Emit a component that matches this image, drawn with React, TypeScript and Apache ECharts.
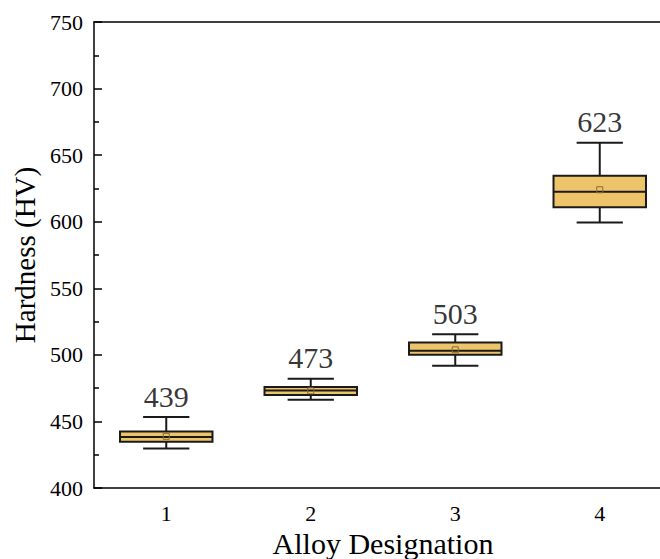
import React, { useEffect, useRef } from "react";
import * as echarts from "echarts";

const categories = ["1", "2", "3", "4"];
const lowerWhisker = [429.6, 466.3, 491.8, 599.5];
const q1 = [434.8, 469.8, 500.0, 610.8];
const median = [438.3, 473.3, 503.0, 622.5];
const q3 = [442.5, 475.8, 509.3, 634.5];
const upperWhisker = [453.3, 482.0, 515.5, 659.3];
const means = [438.8, 473.0, 503.8, 624.0];
const meanLabels = ["439", "473", "503", "623"];
const yTicks = { min: 400, max: 750, interval: 50 };

const FONT = "'Liberation Serif', 'Times New Roman', serif";

export default function App() {
  const ref = useRef<HTMLDivElement>(null);
  useEffect(() => {
    if (!ref.current) return;
    const chart = echarts.init(ref.current, null, { renderer: "svg" });
    const boxData = categories.map((_, i) => [
      i,
      lowerWhisker[i],
      q1[i],
      median[i],
      q3[i],
      upperWhisker[i],
      means[i],
    ]);
    chart.setOption({
      animation: false,
      backgroundColor: "#ffffff",
      grid: { left: 94, right: 0, top: 22, bottom: 71, outerBoundsMode: "none", containLabel: false },
      xAxis: [
        {
          type: "category",
          data: categories,
          boundaryGap: true,
          name: "Alloy Designation",
          nameLocation: "middle",
          nameGap: 35,
          nameTextStyle: { fontFamily: FONT, fontSize: 30, color: "#000" },
          axisLine: { lineStyle: { color: "#000", width: 1.5 } },
          axisTick: { alignWithLabel: true, length: 8, lineStyle: { color: "#000", width: 1.5 } },
          axisLabel: { fontFamily: FONT, fontSize: 22, color: "#000", margin: 14 },
          splitLine: { show: false },
        },
        {
          type: "category",
          data: categories,
          position: "top",
          axisLine: { lineStyle: { color: "#000", width: 1.5 } },
          axisTick: { show: false },
          axisLabel: { show: false },
          splitLine: { show: false },
        },
      ],
      yAxis: {
        type: "value",
        min: yTicks.min,
        max: yTicks.max,
        interval: yTicks.interval,
        name: "Hardness (HV)",
        nameLocation: "middle",
        nameGap: 53,
        nameTextStyle: { fontFamily: FONT, fontSize: 29, color: "#000" },
        axisLine: { show: true, lineStyle: { color: "#000", width: 1.5 } },
        axisTick: { show: true, inside: true, length: 8, lineStyle: { color: "#000", width: 1.5 } },
        minorTick: { show: true, splitNumber: 2, length: 5, lineStyle: { color: "#000", width: 1.5 } },
        axisLabel: { fontFamily: FONT, fontSize: 22, color: "#000", margin: 11 },
        splitLine: { show: false },
      },
      series: [
        {
          type: "custom",
          data: boxData,
          renderItem: (params: any, api: any) => {
            const idx = api.value(0);
            const band = api.size([1, 0])[0];
            const bw = band * 0.64;
            const cw = bw * 0.5;
            const pLow = api.coord([idx, api.value(1)]);
            const pQ1 = api.coord([idx, api.value(2)]);
            const pMed = api.coord([idx, api.value(3)]);
            const pQ3 = api.coord([idx, api.value(4)]);
            const pHigh = api.coord([idx, api.value(5)]);
            const pMean = api.coord([idx, api.value(6)]);
            const x = pMed[0];
            const lineStyle = { stroke: "#1a1a1a", lineWidth: 2 };
            return {
              type: "group",
              children: [
                { type: "line", shape: { x1: x, y1: pHigh[1], x2: x, y2: pQ3[1] }, style: lineStyle },
                { type: "line", shape: { x1: x, y1: pQ1[1], x2: x, y2: pLow[1] }, style: lineStyle },
                { type: "line", shape: { x1: x - cw / 2, y1: pHigh[1], x2: x + cw / 2, y2: pHigh[1] }, style: lineStyle },
                { type: "line", shape: { x1: x - cw / 2, y1: pLow[1], x2: x + cw / 2, y2: pLow[1] }, style: lineStyle },
                {
                  type: "rect",
                  shape: { x: x - bw / 2, y: pQ3[1], width: bw, height: pQ1[1] - pQ3[1] },
                  style: { fill: "#EEC46B", stroke: "#1a1a1a", lineWidth: 2 },
                },
                { type: "line", shape: { x1: x - bw / 2, y1: pMed[1], x2: x + bw / 2, y2: pMed[1] }, style: lineStyle },
                {
                  type: "rect",
                  shape: { x: pMean[0] - 3, y: pMean[1] - 3, width: 6, height: 6 },
                  style: { fill: "none", stroke: "#8a6a2e", lineWidth: 1 },
                },
              ],
            };
          },
          z: 2,
        },
        {
          type: "scatter",
          data: categories.map((_, i) => [i, upperWhisker[i]]),
          symbolSize: 0,
          silent: true,
          label: {
            show: true,
            position: "top",
            distance: 6,
            formatter: (p: any) => meanLabels[p.dataIndex],
            fontFamily: FONT,
            fontSize: 30,
            color: "#000",
          },
          z: 3,
        },
      ],
    });
    return () => chart.dispose();
  }, []);
  return (
    <div
      style={{
        position: "absolute",
        left: 0,
        top: 0,
        width: 660,
        height: 559,
        overflow: "hidden",
      }}
    >
      <div ref={ref} style={{ width: 672, height: 559 }} />
    </div>
  );
}
